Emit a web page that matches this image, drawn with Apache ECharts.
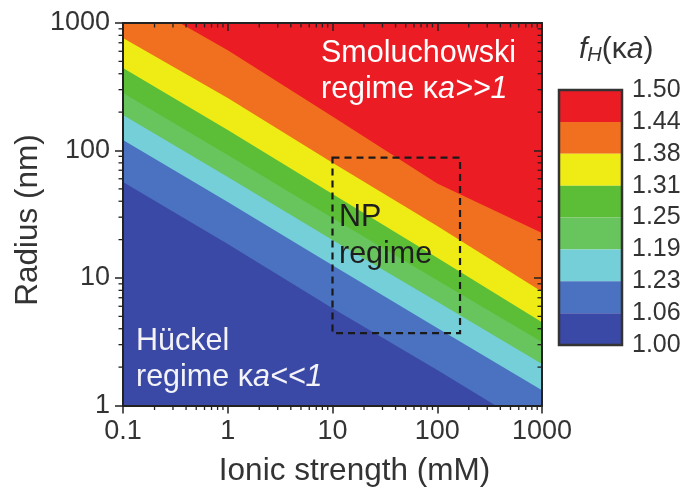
<!DOCTYPE html>
<html>
<head>
<meta charset="utf-8">
<script src="https://cdn.jsdelivr.net/npm/echarts@6/dist/echarts.min.js"></script>
<style>
  html, body { margin: 0; padding: 0; background: #fff; }
  #chart { width: 686px; height: 495px; }
</style>
</head>
<body>
<div id="chart"></div>
<script>
// Ionic strength (mM) at which each contour edge is sampled
const ionicStrength = [0.1, 1, 10, 100, 1000];

// Radius (nm) of each f_H(κa) contour edge at those ionic strengths
const edge144 = [1800, 610, 185, 55, 22.5];
const edge138 = [763, 258, 80, 25.6, 7.8];
const edge131 = [444, 145, 45.6, 14.4, 4.5];
const edge125 = [282, 92, 29.6, 9.6, 3.15];
const edge119 = [190, 62, 19.9, 6.5, 2.12];
const edge113 = [121, 39.4, 12.6, 4.05, 1.32];
const edge106 = [56.6, 18.5, 5.8, 1.9, 0.6];

// Colour of each f_H band, highest (top) to lowest (bottom)
const bandColors = ['#EC1C24', '#F1701F', '#EFEB14', '#5CBE36', '#68C45C', '#74CFD9', '#4A72C1', '#3B49A6'];
// Colour-scale labels, top to bottom
const scaleLabels = ['1.50', '1.44', '1.38', '1.31', '1.25', '1.19', '1.23', '1.06', '1.00'];

// Axis ticks
const xTickLabels = ['0.1', '1', '10', '100', '1000'];
const yTickLabels = ['1', '10', '100', '1000'];

// NP regime window
const npIonic = [10, 165];
const npRadius = [3.7, 88];

const edges = [edge144, edge138, edge131, edge125, edge119, edge113, edge106];
const xMin = 0.1, xMax = 1000, yMin = 1, yMax = 1000;

// log-axis minor ticks (2..9 within each decade)
function minorTicks(lo, hi) {
  const out = [];
  for (let d = lo; d < hi; d *= 10) {
    for (let k = 2; k <= 9; k++) out.push(+(d * k).toPrecision(3));
  }
  return out;
}
const xMinor = minorTicks(xMin, xMax);
const yMinor = minorTicks(yMin, yMax);

// paint bands from the bottom one upwards; each fills everything above its lower edge
const bandOrder = [7, 6, 5, 4, 3, 2, 1, 0];

function renderBand(params, api) {
  const j = bandOrder[params.dataIndex];
  const lower = j < edges.length ? edges[j] : ionicStrength.map(() => yMin / 100);
  const pts = ionicStrength.map((x, k) => api.coord([x, lower[k]]));
  const far = yMax * 1000;
  pts.push(api.coord([ionicStrength[ionicStrength.length - 1], far]));
  pts.push(api.coord([ionicStrength[0], far]));
  return { type: 'polygon', shape: { points: pts }, style: { fill: bandColors[j] } };
}

function tickLine(x1, y1, x2, y2) {
  return { type: 'line', shape: { x1, y1, x2, y2 }, style: { stroke: '#222', lineWidth: 1.3 } };
}

function renderMinorTicks(params, api) {
  const L = 4.5;
  const [xl, yb] = api.coord([xMin, yMin]);
  const [xr, yt] = api.coord([xMax, yMax]);
  const children = [];
  xMinor.forEach(v => {
    const x = api.coord([v, yMin])[0];
    children.push(tickLine(x, yb, x, yb + L));
    children.push(tickLine(x, yt, x, yt + L));
  });
  yMinor.forEach(v => {
    const y = api.coord([xMin, v])[1];
    children.push(tickLine(xl - L, y, xl, y));
    children.push(tickLine(xr - L, y, xr, y));
  });
  return { type: 'group', children };
}

function renderWindow(params, api) {
  const a = api.coord([npIonic[0], npRadius[1]]);
  const b = api.coord([npIonic[1], npRadius[0]]);
  return {
    type: 'rect',
    shape: { x: a[0], y: a[1], width: b[0] - a[0], height: b[1] - a[1] },
    style: { fill: null, stroke: '#1a1a1a', lineWidth: 2.2, lineDash: [7, 5] }
  };
}

function renderScale(params, api) {
  const j = params.dataIndex;
  const p = api.coord([0, 8 - j]);
  const q = api.coord([1, 7 - j]);
  return { type: 'rect', shape: { x: p[0], y: p[1], width: q[0] - p[0], height: q[1] - p[1] }, style: { fill: bandColors[j] } };
}

function renderScaleFrame(params, api) {
  const p = api.coord([0, 8]);
  const q = api.coord([1, 0]);
  return { type: 'rect', shape: { x: p[0], y: p[1], width: q[0] - p[0], height: q[1] - p[1] }, style: { fill: null, stroke: '#333', lineWidth: 2.5 } };
}

const FONT = '"Liberation Sans", Arial, Helvetica, sans-serif';
const axisLineStyle = { color: '#222', width: 2 };
const decadeIndex = (v, lo) => Math.round(Math.log10(v / lo));
const IN_PLOT = 30.5;

const chart = echarts.init(document.getElementById('chart'), null, { renderer: 'canvas' });

chart.setOption({
  animation: false,
  textStyle: { fontFamily: FONT },
  grid: [
    { left: 123, top: 23, right: 144, bottom: 89.5 },
    { left: 559, top: 90, width: 63, height: 255 }
  ],
  xAxis: [
    {
      type: 'log', logBase: 10, min: xMin, max: xMax, gridIndex: 0, position: 'bottom', z: 10,
      axisLine: { lineStyle: axisLineStyle },
      axisTick: { inside: false, length: 8, lineStyle: { color: '#222', width: 1.5 } },
      axisLabel: { fontSize: 27, color: '#333', margin: 13, fontFamily: FONT,
        formatter: v => xTickLabels[decadeIndex(v, xMin)] },
      splitLine: { show: false },
      name: 'Ionic strength (mM)', nameLocation: 'middle', nameGap: 50,
      nameTextStyle: { fontSize: 31.5, color: '#333', fontFamily: FONT, padding: [0, 0, 0, 44] }
    },
    {
      type: 'log', logBase: 10, min: xMin, max: xMax, gridIndex: 0, position: 'top', z: 10,
      axisLine: { lineStyle: axisLineStyle },
      axisTick: { inside: true, length: 8, lineStyle: { color: '#222', width: 1.5 } },
      axisLabel: { show: false }, splitLine: { show: false }
    },
    { type: 'value', min: 0, max: 1, gridIndex: 1, show: false }
  ],
  yAxis: [
    {
      type: 'log', logBase: 10, min: yMin, max: yMax, gridIndex: 0, position: 'left', z: 10,
      axisLine: { lineStyle: axisLineStyle },
      axisTick: { inside: false, length: 8, lineStyle: { color: '#222', width: 1.5 } },
      axisLabel: { fontSize: 27, color: '#333', margin: 13, fontFamily: FONT,
        formatter: v => yTickLabels[decadeIndex(v, yMin)] },
      splitLine: { show: false }
    },
    {
      type: 'log', logBase: 10, min: yMin, max: yMax, gridIndex: 0, position: 'right', z: 10,
      axisLine: { lineStyle: axisLineStyle },
      axisTick: { inside: true, length: 8, lineStyle: { color: '#222', width: 1.5 } },
      axisLabel: { show: false }, splitLine: { show: false }
    },
    {
      type: 'value', min: 0, max: 8, interval: 1, gridIndex: 1, position: 'right',
      axisLine: { show: false }, axisTick: { show: false }, splitLine: { show: false },
      axisLabel: { fontSize: 25, color: '#333', margin: 10, fontFamily: FONT,
        formatter: v => scaleLabels[8 - v] }
    }
  ],
  series: [
    {
      type: 'custom', xAxisIndex: 0, yAxisIndex: 0, clip: true, silent: true, z: 2,
      renderItem: renderBand,
      data: bandOrder.map(j => ({ value: [ionicStrength[0], yMin], name: scaleLabels[j] }))
    },
    {
      type: 'custom', xAxisIndex: 0, yAxisIndex: 0, silent: true, z: 4,
      renderItem: renderWindow,
      data: [[npIonic[0], npRadius[0]]]
    },
    {
      type: 'custom', xAxisIndex: 0, yAxisIndex: 0, silent: true, z: 11,
      renderItem: renderMinorTicks,
      data: [[xMin, yMin]]
    },
    {
      type: 'custom', xAxisIndex: 2, yAxisIndex: 2, silent: true, z: 2,
      renderItem: renderScale,
      data: bandColors.map((c, j) => [0, 8 - j])
    },
    {
      type: 'custom', xAxisIndex: 2, yAxisIndex: 2, silent: true, z: 3,
      renderItem: renderScaleFrame,
      data: [[0, 0]]
    }
  ],
  graphic: [
    {
      // y-axis title
      type: 'text', x: 28, y: 220, rotation: Math.PI / 2, z: 20,
      style: { text: 'Radius (nm)', fontSize: 31.5, fill: '#333', fontFamily: FONT, align: 'center', verticalAlign: 'middle' }
    },
    {
      type: 'text', left: 579, top: 35, z: 20,
      style: {
        text: '{f|f}{h|H}{n|(κ}{a|a}{n|)}',
        rich: {
          f: { fontSize: 30, fontStyle: 'italic', fill: '#333', fontFamily: FONT, verticalAlign: 'bottom', lineHeight: 33 },
          h: { fontSize: 20, fontStyle: 'italic', fill: '#333', fontFamily: FONT, verticalAlign: 'bottom', lineHeight: 26 },
          n: { fontSize: 30, fill: '#333', fontFamily: FONT, verticalAlign: 'bottom', lineHeight: 33 },
          a: { fontSize: 30, fontStyle: 'italic', fill: '#333', fontFamily: FONT, verticalAlign: 'bottom', lineHeight: 33 }
        }
      }
    },
    {
      type: 'text', x: 321, y: 54, z: 20,
      style: { text: 'Smoluchowski', fontSize: IN_PLOT, fill: '#fff', fontFamily: FONT, verticalAlign: 'middle' }
    },
    {
      type: 'text', x: 321, y: 90, z: 20,
      style: {
        text: '{n|regime κ}{i|a>>1}', verticalAlign: 'middle',
        rich: {
          n: { fontSize: IN_PLOT, fill: '#fff', fontFamily: FONT },
          i: { fontSize: IN_PLOT, fill: '#fff', fontFamily: FONT, fontStyle: 'italic' }
        }
      }
    },
    {
      type: 'text', x: 339, y: 218, z: 20,
      style: { text: 'NP', fontSize: IN_PLOT, fill: '#1e1e1e', fontFamily: FONT, verticalAlign: 'middle' }
    },
    {
      type: 'text', x: 339, y: 255, z: 20,
      style: { text: 'regime', fontSize: IN_PLOT, fill: '#1e1e1e', fontFamily: FONT, verticalAlign: 'middle' }
    },
    {
      type: 'text', x: 136, y: 342, z: 20,
      style: { text: 'Hückel', fontSize: IN_PLOT, fill: '#f4f4f8', fontFamily: FONT, verticalAlign: 'middle' }
    },
    {
      type: 'text', x: 136, y: 378, z: 20,
      style: {
        text: '{n|regime κ}{i|a<<1}', verticalAlign: 'middle',
        rich: {
          n: { fontSize: IN_PLOT, fill: '#f4f4f8', fontFamily: FONT },
          i: { fontSize: IN_PLOT, fill: '#f4f4f8', fontFamily: FONT, fontStyle: 'italic' }
        }
      }
    }
  ]
});
</script>
</body>
</html>
